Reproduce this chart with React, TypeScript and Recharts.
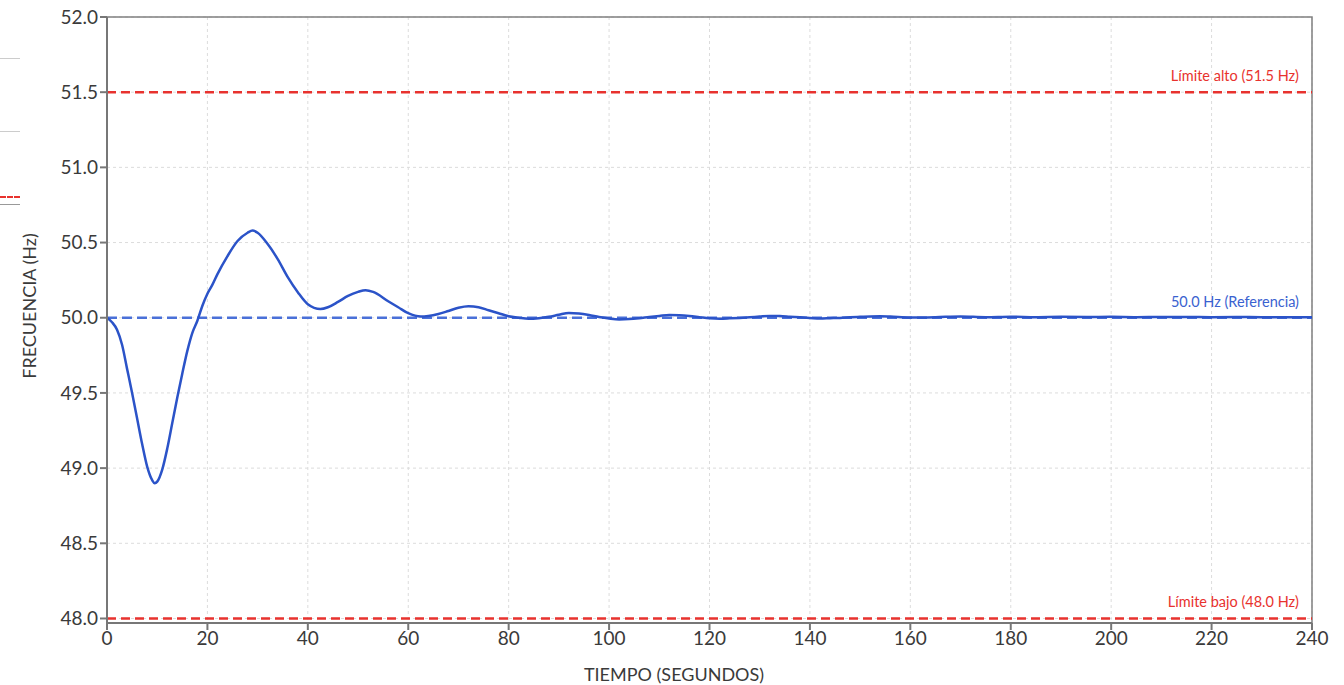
import { LineChart, Line, XAxis, YAxis, CartesianGrid, ReferenceLine, ReferenceArea } from "recharts";

// tiempo (s) y frecuencia (Hz)
const tiempo = [
  0, 1, 2, 3, 4, 5, 6, 7, 8, 9, 9.5, 10, 11, 12, 13, 14, 15, 16, 17, 18, 19, 20, 21, 22, 24, 26, 28, 29, 30, 32,
  34, 36, 38, 40, 42.5, 44, 46, 48, 50, 51.5, 53, 56, 58, 60, 62.5, 64, 66, 68, 70, 72, 74, 76, 78, 80, 82, 84, 86,
  88, 90, 92, 94, 96, 98, 100, 102, 104, 106, 108, 110, 112, 114, 116, 118, 120, 122, 124, 126, 128, 130, 132,
  134, 136, 138, 140, 142, 144, 146, 148, 150, 152, 154, 156, 160, 165, 170, 175, 180, 185, 190, 195, 200, 205,
  210, 215, 220, 225, 230, 235, 240,
];
const frecuencia = [
  50.0, 49.97, 49.92, 49.82, 49.66, 49.5, 49.33, 49.16, 49.01, 48.92, 48.9, 48.91, 48.99, 49.13, 49.3, 49.47,
  49.63, 49.78, 49.9, 49.98, 50.08, 50.16, 50.22, 50.29, 50.41, 50.51, 50.565, 50.58, 50.565, 50.49, 50.39, 50.27,
  50.17, 50.09, 50.058, 50.07, 50.105, 50.145, 50.172, 50.183, 50.172, 50.11, 50.07, 50.03, 50.008, 50.012,
  50.025, 50.045, 50.066, 50.076, 50.07, 50.05, 50.03, 50.01, 50.0, 49.993, 49.997, 50.006, 50.02, 50.032,
  50.028, 50.018, 50.005, 49.995, 49.989, 49.991, 49.997, 50.005, 50.012, 50.018, 50.016, 50.011, 50.004,
  49.997, 49.994, 49.996, 49.999, 50.003, 50.008, 50.012, 50.011, 50.007, 50.003, 49.999, 49.995, 49.997,
  49.999, 50.003, 50.006, 50.009, 50.01, 50.008, 50.002, 50.004, 50.008, 50.004, 50.007, 50.004, 50.006,
  50.005, 50.006, 50.004, 50.005, 50.005, 50.004, 50.005, 50.004, 50.004, 50.004,
];
const xTicks = [0, 20, 40, 60, 80, 100, 120, 140, 160, 180, 200, 220, 240];
const yTicks = [48.0, 48.5, 49.0, 49.5, 50.0, 50.5, 51.0, 51.5, 52.0];

const limiteAlto = 51.5;
const limiteBajo = 48.0;
const referencia = 50.0;

const data = tiempo.map((t, i) => ({ t, f: frecuencia[i] }));

const RED = "#e8322e";
const BLUE = "#2b53c8";
const FONT = "Lato, 'Open Sans', sans-serif";
const TEXT = "#3a3a3a";

const refLabel = (text: string, color: string) => (props: any) => {
  const vb = props.viewBox;
  return (
    <text x={vb.x + vb.width - 13} y={vb.y - 11} textAnchor="end" fill={color} fontSize={14.5} fontFamily={FONT}>
      {text}
    </text>
  );
};

export default function App() {
  return (
    <div style={{ position: "absolute", left: 0, top: 0, background: "#fff" }}>
      {/* restos del recorte en el borde izquierdo */}
      <div style={{ position: "absolute", left: 0, top: 58, width: 20, height: 1, background: "#ccc" }} />
      <div style={{ position: "absolute", left: 0, top: 131, width: 20, height: 1, background: "#ccc" }} />
      <div style={{ position: "absolute", left: 0, top: 196, width: 20, height: 0, borderTop: `2px dashed ${RED}` }} />
      <div style={{ position: "absolute", left: 0, top: 204, width: 20, height: 1, background: "#999" }} />
      <LineChart width={1344} height={685} data={data} margin={{ top: 17, right: 32, bottom: 0, left: 0 }}>
        <CartesianGrid stroke="#dcdcdc" strokeDasharray="3 3" />
        <ReferenceArea x1={0} x2={240} y1={47.97} y2={52} fill="none" stroke="#808080" strokeWidth={1.5} />
        <XAxis
          dataKey="t"
          type="number"
          domain={[0, 240]}
          ticks={xTicks}
          height={62}
          stroke="#777"
          strokeWidth={2}
          tickSize={7}
          tick={{ fill: TEXT, fontSize: 19, fontFamily: FONT }}
          label={{
            content: () => (
              <text x={674} y={681} textAnchor="middle" fill={TEXT} fontSize={18} fontFamily={FONT}>
                TIEMPO (SEGUNDOS)
              </text>
            ),
          }}
        />
        <YAxis
          type="number"
          domain={[47.97, 52]}
          ticks={yTicks}
          width={107}
          stroke="#777"
          strokeWidth={2}
          tickSize={7}
          tickFormatter={(v: number) => v.toFixed(1)}
          tick={{ fill: TEXT, fontSize: 19, fontFamily: FONT }}
          label={{
            content: () => (
              <text
                x={36}
                y={306}
                transform="rotate(-90 36 306)"
                textAnchor="middle"
                fill={TEXT}
                fontSize={18}
                fontFamily={FONT}
              >
                FRECUENCIA (Hz)
              </text>
            ),
          }}
        />
        <ReferenceLine
          y={limiteAlto}
          stroke={RED}
          strokeWidth={2.5}
          strokeDasharray="9 5"
          label={{ content: refLabel("Límite alto (51.5 Hz)", RED) }}
        />
        <ReferenceLine
          y={limiteBajo}
          stroke={RED}
          strokeWidth={2.5}
          strokeDasharray="9 5"
          label={{ content: refLabel("Límite bajo (48.0 Hz)", RED) }}
        />
        <ReferenceLine
          y={referencia}
          stroke="#4a70d8"
          strokeWidth={2.5}
          strokeDasharray="10 5"
          label={{ content: refLabel("50.0 Hz (Referencia)", "#3a62d0") }}
        />
        <Line
          dataKey="f"
          type="monotone"
          stroke={BLUE}
          strokeWidth={2.5}
          dot={false}
          isAnimationActive={false}
        />
      </LineChart>
    </div>
  );
}
